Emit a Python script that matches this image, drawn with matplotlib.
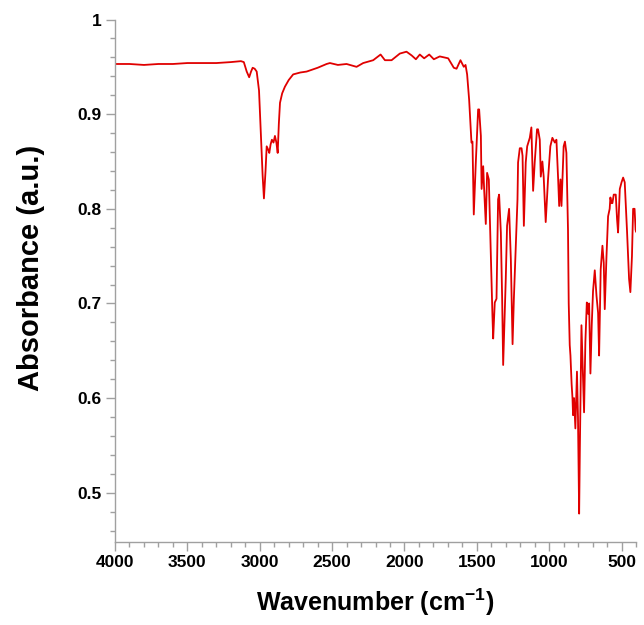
import matplotlib
matplotlib.use("Agg")
import matplotlib.pyplot as plt
from matplotlib.ticker import MultipleLocator

# IR spectrum (wavenumber in cm-1, absorbance a.u.)
wavenumber = [
    4000, 3900, 3800, 3700, 3600, 3500, 3400, 3300, 3200, 3130,
    3110, 3090, 3073, 3060, 3049, 3035, 3021, 3005, 2990, 2980,
    2971, 2960, 2952, 2940, 2934, 2925, 2916, 2905, 2895, 2885,
    2876, 2868, 2860, 2845, 2826, 2800, 2769, 2720, 2676, 2600,
    2538, 2515, 2460, 2400, 2331, 2285, 2216, 2165, 2135, 2089,
    2032, 1986, 1950, 1921, 1894, 1864, 1829, 1797, 1756, 1698,
    1659, 1640, 1613, 1590, 1578, 1567, 1553, 1548, 1537, 1530,
    1521, 1507, 1491, 1484, 1472, 1467, 1456, 1449, 1438, 1429,
    1417, 1405, 1397, 1392, 1387, 1376, 1364, 1353, 1346, 1334,
    1325, 1318, 1300, 1291, 1277, 1265, 1253, 1244, 1231, 1219,
    1215, 1203, 1191, 1184, 1175, 1162, 1152, 1134, 1123, 1111,
    1100, 1084, 1077, 1065, 1058, 1047, 1038, 1024, 1008, 992,
    978, 961, 950, 938, 931, 922, 915, 900, 891, 881,
    870, 865, 858, 853, 845, 839, 835, 828, 819, 808,
    801, 793, 788, 777, 770, 759, 750, 740, 731, 724,
    715, 706, 697, 685, 673, 662, 655, 644, 632, 623,
    616, 604, 593, 582, 577, 570, 563, 554, 540, 531,
    524, 512, 500, 489, 478, 462, 448, 439, 428, 420,
    410, 403, 400,
]
absorbance = [
    0.953, 0.953, 0.952, 0.953, 0.953, 0.954, 0.954, 0.954, 0.955, 0.956,
    0.955, 0.945, 0.939, 0.945, 0.949, 0.948, 0.945, 0.925, 0.870, 0.835,
    0.811, 0.840, 0.866, 0.862, 0.859, 0.868, 0.873, 0.870, 0.877, 0.870,
    0.859, 0.890, 0.912, 0.922, 0.929, 0.936, 0.942, 0.944, 0.945, 0.949,
    0.953, 0.954, 0.952, 0.953, 0.950, 0.954, 0.957, 0.963, 0.957, 0.957,
    0.964, 0.966, 0.962, 0.958, 0.963, 0.959, 0.963, 0.958, 0.961, 0.959,
    0.949, 0.948, 0.957, 0.950, 0.952, 0.942, 0.915, 0.901, 0.870, 0.871,
    0.794, 0.849, 0.905, 0.905, 0.877, 0.821, 0.845, 0.819, 0.784, 0.838,
    0.831, 0.760, 0.715, 0.687, 0.663, 0.701, 0.705, 0.810, 0.815, 0.775,
    0.705, 0.635, 0.726, 0.782, 0.800, 0.747, 0.657, 0.705, 0.758, 0.810,
    0.849, 0.864, 0.864, 0.856, 0.782, 0.849, 0.866, 0.875, 0.886, 0.819,
    0.849, 0.884, 0.884, 0.873, 0.834, 0.850, 0.834, 0.786, 0.831, 0.866,
    0.875, 0.870, 0.873, 0.831, 0.803, 0.831, 0.803, 0.866, 0.871, 0.859,
    0.778, 0.700, 0.656, 0.645, 0.615, 0.600, 0.582, 0.600, 0.568, 0.628,
    0.580, 0.478, 0.547, 0.677, 0.642, 0.585, 0.659, 0.701, 0.689, 0.700,
    0.626, 0.677, 0.713, 0.735, 0.708, 0.690, 0.645, 0.736, 0.761, 0.743,
    0.694, 0.750, 0.792, 0.800, 0.812, 0.806, 0.806, 0.815, 0.815, 0.789,
    0.775, 0.821, 0.828, 0.833, 0.828, 0.776, 0.726, 0.712, 0.750, 0.800,
    0.800, 0.778, 0.776,
]

xticks = [4000, 3500, 3000, 2500, 2000, 1500, 1000, 500]
yticks = [0.5, 0.6, 0.7, 0.8, 0.9, 1.0]
yticklabels = ["0.5", "0.6", "0.7", "0.8", "0.9", "1"]

plt.rcParams["font.family"] = ["Liberation Sans", "DejaVu Sans"]
plt.rcParams["mathtext.default"] = "regular"

fig = plt.figure(figsize=(6.44, 6.25), dpi=100)
ax = fig.add_axes([0.1786, 0.1328, 0.809, 0.836])

ax.plot(wavenumber, absorbance, color="#e00000", lw=1.3)

ax.set_xlim(4000, 400)
ax.set_ylim(0.448, 1.0)
ax.set_xticks(xticks)
ax.set_yticks(yticks)
ax.set_yticklabels(yticklabels)
ax.xaxis.set_minor_locator(MultipleLocator(100))
ax.yaxis.set_minor_locator(MultipleLocator(0.02))

for side in ["top", "right"]:
    ax.spines[side].set_visible(False)
for side in ["left", "bottom"]:
    ax.spines[side].set_color("#a0a0a0")
    ax.spines[side].set_linewidth(1.0)

ax.tick_params(which="major", length=6.5, width=1.0, color="#a0a0a0",
               labelsize=12.5, pad=3)
ax.tick_params(which="minor", length=3.5, width=1.0, color="#a0a0a0")
for lab in ax.get_xticklabels() + ax.get_yticklabels():
    lab.set_fontweight("bold")

ax.set_xlabel("Wavenumber (cm$^{-1}$)", fontsize=18, fontweight="bold", labelpad=12)
ax.set_ylabel("Absorbance (a.u.)", fontsize=21, fontweight="bold")
ax.yaxis.set_label_coords(-0.135, 0.525)

fig.savefig("out.png", dpi=100)
